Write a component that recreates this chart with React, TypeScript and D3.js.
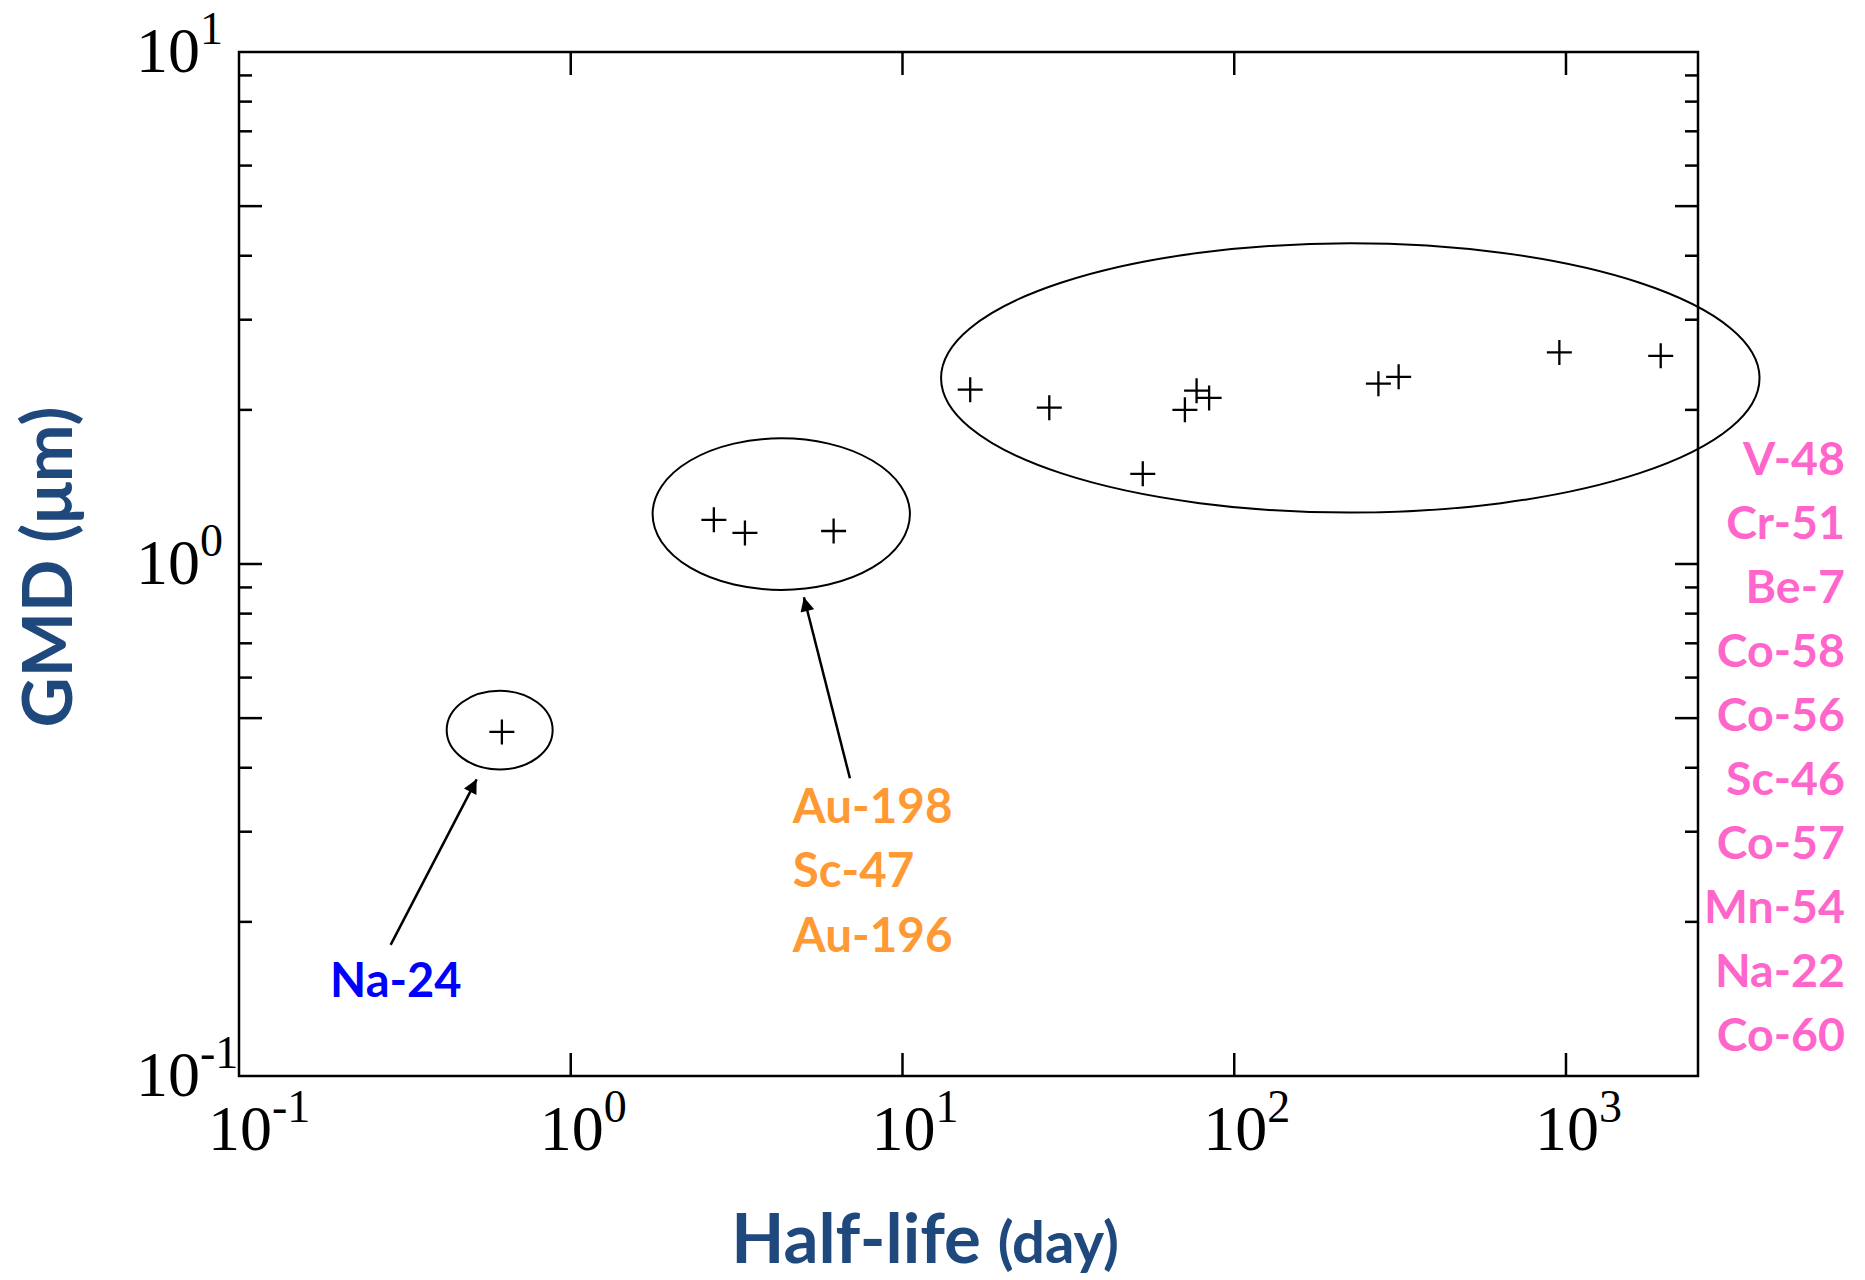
import React, { useEffect, useRef } from 'react';
import * as d3 from 'd3';

// nuclides, in order of half-life
const nuclides = ['Na-24', 'Au-198', 'Sc-47', 'Au-196', 'V-48', 'Cr-51', 'Be-7', 'Co-58', 'Co-56', 'Sc-46', 'Co-57', 'Mn-54', 'Na-22', 'Co-60'];
const halfLife = [0.62, 2.7, 3.35, 6.2, 16, 27.7, 53, 71, 77, 84, 272, 313, 955, 1930];
const gmd = [0.47, 1.22, 1.15, 1.16, 2.19, 2.02, 1.5, 2.0, 2.18, 2.11, 2.25, 2.32, 2.59, 2.55];

// groups circled on the chart (bounds in data units)
const groupColors = ['#0000ff', '#ff9933', '#ff66cc'];
const ellipseX: [number, number][] = [[0.4227, 0.882], [1.765, 10.53], [13.07, 3832]];
const ellipseY: [number, number][] = [[0.397, 0.5656], [0.89, 1.76], [1.26, 4.23]];

// arrows: [x0, y0, x1, y1] in data units
const arrows = [
    [0.2865, 0.1803, 0.5205, 0.3797],
    [6.943, 0.3815, 5.045, 0.861],
];

const shortLabels = ['Na-24'];
const mediumLabels = ['Au-198', 'Sc-47', 'Au-196'];
const longLabels = ['V-48', 'Cr-51', 'Be-7', 'Co-58', 'Co-56', 'Sc-46', 'Co-57', 'Mn-54', 'Na-22', 'Co-60'];

const xMajor = [0.1, 1, 10, 100, 1000];
const xExp = ['-1', '0', '1', '2', '3'];
const yMajor = [0.1, 1, 10];
const yExp = ['-1', '0', '1'];

const W = 1865;
const H = 1280;
const sans = 'Lato, "Open Sans", sans-serif';
const serif = '"Liberation Serif", "Times New Roman", serif';
const titleColor = '#1f497d';

export default function App() {
    const svgRef = useRef<SVGSVGElement>(null);

    useEffect(() => {
        if (!svgRef.current) return;
        const svg = d3.select(svgRef.current);
        svg.selectAll('*').remove();

        const left = 239, right = 1698, top = 52, bottom = 1076;
        const x = d3.scaleLog().domain([0.1, 2500]).range([left, right]);
        const y = d3.scaleLog().domain([0.1, 10]).range([bottom, top]);

        svg.append('defs').append('marker')
            .attr('id', 'head')
            .attr('viewBox', '0 0 10 10')
            .attr('refX', 10).attr('refY', 5)
            .attr('markerWidth', 18).attr('markerHeight', 14)
            .attr('markerUnits', 'userSpaceOnUse')
            .attr('orient', 'auto')
            .append('path').attr('d', 'M0,0L10,5L0,10z').attr('fill', '#000');

        // frame
        svg.append('rect')
            .attr('x', left).attr('y', top)
            .attr('width', right - left).attr('height', bottom - top)
            .attr('fill', 'none').attr('stroke', '#000').attr('stroke-width', 2.5);

        // y ticks, both sides
        const yTicks: { v: number; len: number }[] = [];
        [0.1, 1].forEach(base => {
            for (let k = 1; k <= 9; k++) {
                const v = base * k;
                yTicks.push({ v, len: k === 1 || k === 5 ? 23 : 13 });
            }
        });
        const yt = svg.append('g').attr('stroke', '#000').attr('stroke-width', 2.5);
        yTicks.forEach(t => {
            if (t.v <= 0.1) return;
            yt.append('line').attr('x1', left).attr('x2', left + t.len).attr('y1', y(t.v)).attr('y2', y(t.v));
            yt.append('line').attr('x1', right).attr('x2', right - t.len).attr('y1', y(t.v)).attr('y2', y(t.v));
        });

        // x ticks, bottom and top
        xMajor.slice(1).forEach(v => {
            yt.append('line').attr('x1', x(v)).attr('x2', x(v)).attr('y1', bottom).attr('y2', bottom - 23);
            yt.append('line').attr('x1', x(v)).attr('x2', x(v)).attr('y1', top).attr('y2', top + 23);
        });

        // tick labels
        xMajor.forEach((v, i) => {
            const t = svg.append('text')
                .attr('x', x(v) - 31).attr('y', bottom + 74)
                .attr('font-family', serif).attr('font-size', 64).attr('fill', '#000');
            t.append('tspan').text('10');
            t.append('tspan').attr('dy', -28).attr('font-size', 46).text(xExp[i]);
        });
        yMajor.forEach((v, i) => {
            const t = svg.append('text')
                .attr('x', 136).attr('y', y(v) + 20)
                .attr('font-family', serif).attr('font-size', 64).attr('fill', '#000');
            t.append('tspan').text('10');
            t.append('tspan').attr('dy', -28).attr('font-size', 46).text(yExp[i]);
        });

        // axis titles
        const xt = svg.append('text')
            .attr('x', 925).attr('y', 1263)
            .attr('text-anchor', 'middle')
            .attr('font-family', sans).attr('font-weight', 700)
            .attr('fill', titleColor);
        xt.append('tspan').attr('font-size', 69).text('Half-life ');
        xt.append('tspan').attr('font-size', 58).text('(day)');

        svg.append('text')
            .attr('transform', `translate(72,567) rotate(-90)`)
            .attr('text-anchor', 'middle')
            .attr('font-family', sans).attr('font-weight', 700).attr('font-size', 69)
            .attr('fill', titleColor)
            .text('GMD (\u03bcm)');

        // ellipses around groups
        svg.append('g').selectAll('ellipse')
            .data(d3.range(ellipseX.length))
            .join('ellipse')
            .attr('cx', i => (x(ellipseX[i][0]) + x(ellipseX[i][1])) / 2)
            .attr('cy', i => (y(ellipseY[i][0]) + y(ellipseY[i][1])) / 2)
            .attr('rx', i => (x(ellipseX[i][1]) - x(ellipseX[i][0])) / 2)
            .attr('ry', i => (y(ellipseY[i][0]) - y(ellipseY[i][1])) / 2)
            .attr('fill', 'none').attr('stroke', '#000').attr('stroke-width', 2);

        // arrows
        svg.append('g').selectAll('line')
            .data(arrows)
            .join('line')
            .attr('x1', d => x(d[0])).attr('y1', d => y(d[1]))
            .attr('x2', d => x(d[2])).attr('y2', d => y(d[3]))
            .attr('stroke', '#000').attr('stroke-width', 2.5)
            .attr('marker-end', 'url(#head)');

        // plus markers
        const s = 12.5;
        svg.append('g').selectAll('path')
            .data(d3.range(nuclides.length))
            .join('path')
            .attr('d', i => {
                const px = x(halfLife[i]), py = y(gmd[i]);
                return `M${px - s},${py}H${px + s}M${px},${py - s}V${py + s}`;
            })
            .attr('stroke', '#000').attr('stroke-width', 2.3).attr('fill', 'none');

        // group labels
        svg.append('g').selectAll('text')
            .data(shortLabels)
            .join('text')
            .attr('x', x(0.297)).attr('y', y(0.1427))
            .attr('text-anchor', 'middle')
            .attr('font-family', sans).attr('font-weight', 700).attr('font-size', 47)
            .attr('fill', groupColors[0])
            .text(d => d);

        svg.append('g').selectAll('text')
            .data(mediumLabels)
            .join('text')
            .attr('x', x(4.64) + 1).attr('y', (d, i) => y(0.312) + i * 64.5)
            .attr('font-family', sans).attr('font-weight', 700).attr('font-size', 47.5)
            .attr('fill', groupColors[1])
            .text(d => d);

        svg.append('g').selectAll('text')
            .data(longLabels)
            .join('text')
            .attr('x', W - 20).attr('y', (d, i) => 475 + i * 64.05)
            .attr('text-anchor', 'end')
            .attr('font-family', sans).attr('font-weight', 700).attr('font-size', 46.5)
            .attr('fill', groupColors[2])
            .text(d => d);
    }, []);

    return (
        <svg
            ref={svgRef}
            width={W}
            height={H}
            style={{ position: 'absolute', left: 0, top: 0, background: '#fff' }}
        />
    );
}
